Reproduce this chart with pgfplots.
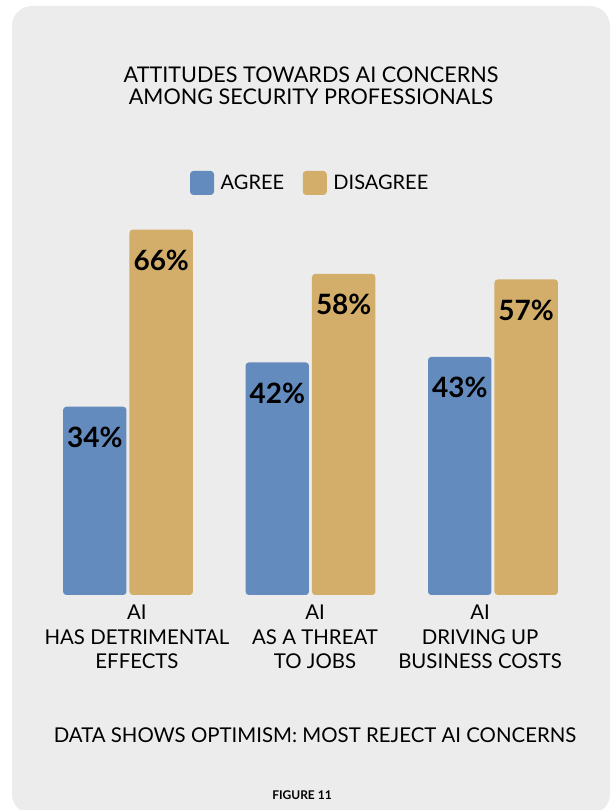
\documentclass[border=0pt]{standalone}
\usepackage{fontspec}
\setmainfont{Lato}
\usepackage{pgfplots}
\pgfplotsset{compat=1.18}
\definecolor{bg}{HTML}{ECECEC}
\definecolor{agree}{HTML}{638BBE}
\definecolor{disagree}{HTML}{D3AE6B}
\begin{document}
\begin{tikzpicture}[x=0.75pt,y=0.75pt]
\useasboundingbox (0,0) rectangle (613,810);
\fill[white] (0,0) rectangle (613,810);
\fill[bg, rounded corners=15pt] (12,804) rectangle (610,-4);
\node[font=\fontsize{16.2}{16.5}\selectfont, align=center] at (311,724) {ATTITUDES TOWARDS AI CONCERNS\\AMONG SECURITY PROFESSIONALS};
\node[font=\fontsize{15.3}{18}\selectfont] at (315,75) {DATA SHOWS OPTIMISM: MOST REJECT AI CONCERNS};
\node[font=\fontsize{9}{10}\selectfont\bfseries] at (302,15) {FIGURE 11};
\begin{axis}[
  at={(27.5625pt,161.25pt)}, anchor=south west,
  scale only axis, width=410.6pt, height=290.7pt,
  xmin=-0.5, xmax=2.5, ymin=0, ymax=70,
  axis y line=none, axis x line*=bottom,
  x axis line style={draw=none},
  xtick={0.049,1.025,1.929},
  xticklabels={{AI\\HAS DETRIMENTAL\\EFFECTS},{AI\\AS A THREAT\\TO JOBS},{AI\\DRIVING UP\\BUSINESS COSTS}},
  xtick style={draw=none},
  major tick length=0pt,
  xticklabel style={align=center, anchor=north, font=\fontsize{15.3}{18.4}\selectfont, yshift=-4pt},
  ybar=2.25pt, bar width=47.6pt,
  /pgf/number format/assume math mode=true,
  nodes near coords={\pgfmathprintnumber{\pgfplotspointmeta}\%},
  every node near coord/.append style={anchor=center, yshift=-23pt, font=\fontsize{21}{24}\selectfont\bfseries, text=black},
  legend style={at={(0.5,1.063)}, anchor=center, draw=none, fill=none, legend columns=2,
    font=\fontsize{15}{17}\selectfont,
    /tikz/every odd column/.append style={column sep=3pt},
    /tikz/every even column/.append style={column sep=12pt}},
  legend image code/.code={\fill[#1] (0pt,-9pt) rectangle (18pt,9pt);},
  clip=false,
]
\addplot[fill=agree, draw=none, rounded corners=2.5pt] coordinates {(0,34) (1,42) (2,43)};
\addplot[fill=disagree, draw=none, rounded corners=2.5pt] coordinates {(0,66) (1,58) (2,57)};
\legend{AGREE, DISAGREE}
\end{axis}
\end{tikzpicture}
\end{document}
